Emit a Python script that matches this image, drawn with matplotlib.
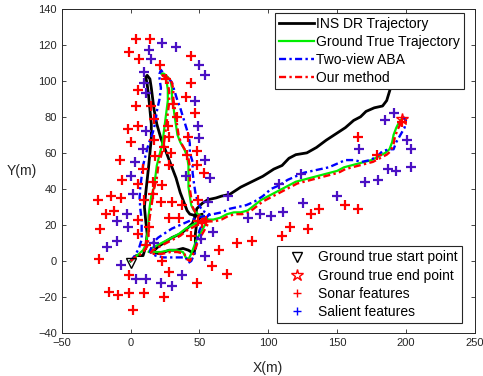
import matplotlib
matplotlib.use('Agg')
import matplotlib.pyplot as plt
from matplotlib.lines import Line2D

plt.rcParams['font.family'] = ['Liberation Sans', 'DejaVu Sans']

# trajectories (x, y) in metres
ins_dr = [(0, 0), (4, 3), (9, 3), (11, 8), (12, 15), (11, 22), (10, 30), (11, 38), (12, 45),
          (13, 52), (14, 60), (15, 68), (15, 76), (14, 84), (13, 92), (12, 98), (11, 102),
          (12, 103), (14, 101), (15, 96), (16, 90), (17, 84), (19, 76), (22, 68), (25, 62),
          (29, 54), (33, 46), (36, 38), (39, 32), (41, 28), (43, 26), (48, 25), (52, 26),
          (48, 21), (47, 15), (47, 8), (46, 4), (42, 6), (38, 7), (33, 6), (28, 6), (21, 4),
          (16, 5), (20, 8), (24, 10), (30, 13), (36, 15), (41, 18), (45, 21), (47, 25),
          (48, 29), (52, 32), (56, 34), (62, 35), (66, 36), (72, 37), (80, 41), (88, 44),
          (96, 47), (104, 51), (110, 53), (115, 57), (120, 59), (128, 60), (135, 63),
          (142, 67), (150, 71), (156, 74), (162, 78), (167, 80), (171, 83), (177, 85),
          (183, 86), (186, 89), (188, 94), (190, 99), (193, 103)]

ground_truth = [(0, 0), (3, 2), (6, 4), (9, 6), (11, 9), (12, 14), (13, 19), (13, 25), (14, 31),
                (15, 36), (17, 41), (18, 47), (19, 53), (21, 59), (23, 65), (24, 71), (25, 77),
                (26, 83), (27, 89), (27, 95), (26, 100), (24, 103), (22, 104), (24, 104),
                (27, 102), (29, 100), (30, 96), (30, 91), (31, 86), (32, 80), (33, 75), (34, 70),
                (36, 66), (39, 62), (41, 58), (42, 53), (42, 47), (42, 41), (43, 36), (44, 31),
                (46, 28), (49, 26), (53, 24), (56, 23), (54, 20), (51, 16), (48, 12), (46, 8),
                (44, 4), (42, 1), (40, 2), (38, 5), (33, 6), (28, 6), (22, 5), (17, 5), (13, 5),
                (15, 7), (20, 9), (25, 11), (30, 13), (35, 15), (40, 18), (45, 20), (50, 22),
                (55, 23), (60, 23), (65, 24), (70, 26), (75, 27), (80, 27), (85, 28), (90, 31),
                (95, 34), (100, 36), (105, 38), (110, 40), (115, 42), (120, 44), (125, 45),
                (130, 46), (135, 47), (140, 48), (145, 49), (150, 50), (155, 52), (160, 53),
                (165, 54), (170, 55), (175, 56), (180, 58), (185, 60), (188, 62), (190, 66),
                (191, 70), (193, 74), (195, 77), (197, 79)]

two_view_aba = [(0, 0), (3, 3), (6, 7), (8, 12), (8, 17), (8, 23), (7, 29), (6.5, 35), (7, 41),
                (8, 47), (9, 53), (11, 59), (13, 65), (16, 71), (18, 77), (19, 83), (21, 90),
                (22, 96), (21, 101), (21, 104), (22, 106), (24, 104), (27, 102), (30, 99),
                (32, 94), (34, 89), (36, 85), (38, 80), (40, 75), (42, 70), (43, 65), (43, 60),
                (45, 55), (45, 49), (46, 43), (47, 38), (49, 32), (52, 28), (57, 26), (53, 22),
                (50, 17), (48, 11), (47, 5), (44, 0), (42, -1), (40, 2), (36, 2), (30, 2),
                (24, 2), (18, 3), (14, 5), (16, 10), (20, 13), (24, 15), (30, 18), (36, 20),
                (42, 22), (48, 24), (54, 25), (60, 26), (66, 27), (72, 29), (78, 30), (84, 31),
                (90, 33), (96, 36), (102, 40), (108, 42), (114, 45), (120, 47), (126, 49),
                (132, 50), (138, 51), (144, 52), (150, 54), (156, 56), (162, 56), (168, 55),
                (174, 56), (179, 58), (183, 61), (188, 62), (191, 62), (193, 66), (196, 70),
                (199, 74), (200, 78), (197, 81)]

our_method = [(0, 0), (3, 2), (6, 3), (9, 5), (12, 8), (13, 13), (13, 19), (14, 25), (15, 30),
              (16, 35), (17, 40), (19, 46), (20, 52), (22, 58), (24, 64), (25, 70), (26, 76),
              (27, 82), (28, 88), (28, 94), (27, 99), (25, 102), (23, 103), (25, 103), (28, 101),
              (30, 99), (31, 95), (31, 90), (32, 85), (33, 80), (34, 74), (35, 69), (37, 65),
              (40, 61), (42, 57), (43, 52), (43, 46), (43, 40), (44, 35), (45, 30), (47, 27),
              (50, 25), (54, 23), (57, 22), (55, 19), (52, 15), (49, 11), (47, 7), (45, 3),
              (43, 0), (41, 1), (39, 4), (34, 5), (29, 5), (23, 4), (18, 4), (14, 4), (16, 6),
              (21, 8), (26, 10), (31, 12), (36, 14), (41, 17), (46, 19), (51, 21), (56, 22),
              (61, 22), (66, 23), (71, 25), (76, 26), (81, 26), (86, 27), (91, 30), (96, 33),
              (101, 35), (106, 37), (111, 39), (116, 41), (121, 43), (126, 44), (131, 45),
              (136, 46), (141, 47), (146, 48), (151, 49), (156, 51), (161, 52), (166, 53),
              (171, 54), (176, 55), (181, 57), (186, 59), (189, 61), (191, 65), (192, 69),
              (194, 73), (196, 76), (198, 79)]

start_point = (0, -1)
end_point = (197, 79)

sonar_features = [(4, 123), (14, 123), (-1, 116), (6, 112), (21, 109), (44, 114), (44, 99),
                  (5, 95), (40, 91), (4, 86), (15, 86), (47, 82), (31, 87), (-2, 73), (5, 75),
                  (17, 79), (34, 80), (27, 75), (0, 66), (17, 67), (28, 69), (42, 69), (24, 63),
                  (-8, 56), (18, 58), (29, 60), (41, 59), (48, 61), (9, 51), (28, 53), (48, 53),
                  (53, 49), (-6, 45), (5, 43), (16, 44), (23, 42), (-24, 34), (-14, 36), (-7, 35),
                  (10, 34), (16, 37), (22, 33), (30, 33), (37, 31), (49, 34), (-18, 26), (-12, 28),
                  (5, 23), (28, 24), (35, 24), (49, 22), (-22, 18), (5, 15), (13, 19), (44, 14),
                  (11, 9), (-23, 1), (23, 0), (-1, -8), (28, -6), (48, -12), (-16, -17),
                  (-9, -19), (-1, -18), (10, -18), (24, -20), (2, -27), (59, -3), (70, -7),
                  (64, 6), (77, 10), (88, 11), (110, 14), (116, 19), (129, 18), (131, 26),
                  (137, 29), (156, 31), (165, 29), (165, 69), (179, 59), (197, 77), (26, 101),
                  (55, 22), (52, 21)]

salient_features = [(23, 121), (33, 119), (13, 117), (15, 112), (50, 109), (54, 103), (10, 105),
                    (10, 99), (11, 93), (47, 89), (49, 75), (11, 72), (50, 68), (9, 62), (3, 55),
                    (54, 56), (58, 46), (0, 47), (40, 47), (2, 37), (56, 33), (-3, 26), (-10, 22),
                    (-2, 19), (-17, 8), (-10, 11), (-7, -2), (4, -10), (11, -10), (22, -12),
                    (30, -14), (37, -8), (54, 3), (51, 12), (60, 16), (85, 24), (94, 26),
                    (102, 25), (111, 27), (108, 43), (125, 32), (124, 48), (150, 36), (166, 62),
                    (170, 44), (180, 45), (185, 78), (191, 82), (187, 51), (193, 50), (201, 67),
                    (204, 62), (204, 52), (71, 36), (17, 10)]

x_ticks = [-50, 0, 50, 100, 150, 200, 250]
y_ticks = [-40, -20, 0, 20, 40, 60, 80, 100, 120, 140]

dashdot = (3, 1.4, 1, 1.4)

fig = plt.figure(figsize=(4.83, 3.76), dpi=100)
ax = fig.add_axes([0.128, 0.114, 0.855, 0.863])

h_ins, = ax.plot(*zip(*ins_dr), color='black', lw=2.0, label='INS DR Trajectory')
h_gt, = ax.plot(*zip(*ground_truth), color='#00ee00', lw=1.6, label='Ground True Trajectory')
h_aba, = ax.plot(*zip(*two_view_aba), color='#0000ff', lw=1.7, dashes=dashdot, label='Two-view ABA')
h_our, = ax.plot(*zip(*our_method), color='#ff0000', lw=1.7, dashes=dashdot, label='Our method')

ax.plot(*zip(*sonar_features), ls='none', marker='+', ms=7, mew=1.6, color='#ff0000', zorder=4)
ax.plot(*zip(*salient_features), ls='none', marker='+', ms=7, mew=1.6, color='#4a10c4', zorder=4)
ax.plot(*start_point, marker='v', ms=7, mfc='none', mec='black', mew=1.0, ls='none', zorder=5)
ax.plot(*end_point, marker='*', ms=9, mfc='none', mec='#ff0000', mew=1.0, ls='none', zorder=5)

ax.set_xlim(-50, 250)
ax.set_ylim(-40, 140)
ax.set_xticks(x_ticks)
ax.set_yticks(y_ticks)
ax.tick_params(direction='in', top=True, right=True, labelsize=8, length=3,
               color='#262626', labelcolor='#262626', width=0.6)
for s in ax.spines.values():
    s.set_color('#262626')
    s.set_linewidth(0.7)

ax.set_xlabel('X(m)', fontsize=10, color='#262626')
ax.xaxis.set_label_coords(0.5, -0.108)
ax.xaxis.label.set_va('center')
ax.set_ylabel('Y(m)', fontsize=10, rotation=0, color='#262626')
ax.yaxis.set_label_coords(-0.098, 0.5)
ax.yaxis.label.set_va('center')
ax.yaxis.label.set_ha('center')

leg1 = ax.legend(handles=[h_ins, h_gt, h_aba, h_our], loc='upper right',
                 bbox_to_anchor=(0.973, 0.988), borderaxespad=0, fontsize=10,
                 handlelength=2.5, handletextpad=0.15, labelspacing=0.3,
                 borderpad=0.3, fancybox=False, framealpha=1, edgecolor='#262626')
leg1.get_frame().set_linewidth(0.8)
ax.add_artist(leg1)

extra = [
    Line2D([], [], ls='none', marker='v', ms=7, mfc='none', mec='black', mew=1.0),
    Line2D([], [], ls='none', marker='*', ms=9, mfc='none', mec='#ff0000', mew=1.0),
    Line2D([], [], ls='none', marker='+', ms=6, mew=1.0, color='#ff0000'),
    Line2D([], [], ls='none', marker='+', ms=6, mew=1.0, color='#0000ff'),
]
leg2 = ax.legend(handles=extra, labels=['Ground true start point', 'Ground true end point',
                                        'Sonar features', 'Salient features'],
                 loc='lower right', bbox_to_anchor=(0.969, 0.031), borderaxespad=0,
                 fontsize=10, handlelength=2.3, handletextpad=0.4, labelspacing=0.3,
                 borderpad=0.3, fancybox=False, framealpha=1, edgecolor='#262626')
leg2.get_frame().set_linewidth(0.8)

fig.savefig('out.png', dpi=100)
